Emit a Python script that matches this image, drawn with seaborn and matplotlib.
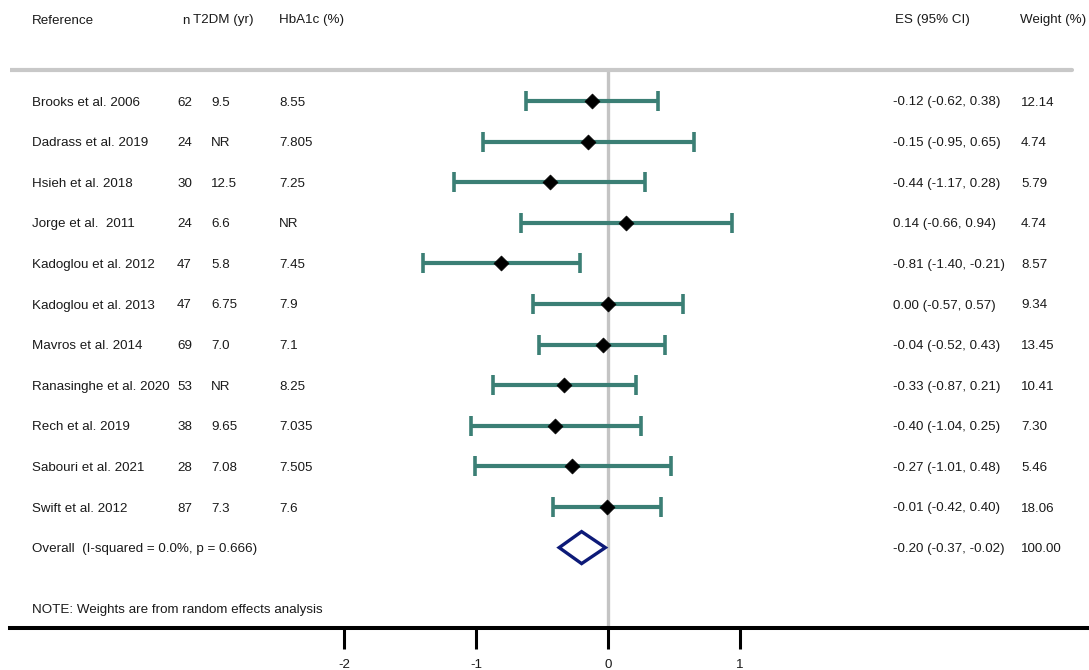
import numpy as np
import pandas as pd
import matplotlib
matplotlib.use("Agg")
import matplotlib.pyplot as plt
import matplotlib.transforms as mtransforms
import seaborn as sns

# Study-level data
studies = ["Brooks et al. 2006", "Dadrass et al. 2019", "Hsieh et al. 2018",
           "Jorge et al.  2011", "Kadoglou et al. 2012", "Kadoglou et al. 2013",
           "Mavros et al. 2014", "Ranasinghe et al. 2020", "Rech et al. 2019",
           "Sabouri et al. 2021", "Swift et al. 2012"]
n_subj = ["62", "24", "30", "24", "47", "47", "69", "53", "38", "28", "87"]
t2dm_years = ["9.5", "NR", "12.5", "6.6", "5.8", "6.75", "7.0", "NR", "9.65", "7.08", "7.3"]
hba1c = ["8.55", "7.805", "7.25", "NR", "7.45", "7.9", "7.1", "8.25", "7.035", "7.505", "7.6"]
es = [-0.12, -0.15, -0.44, 0.14, -0.81, 0.00, -0.04, -0.33, -0.40, -0.27, -0.01]
ci_low = [-0.62, -0.95, -1.17, -0.66, -1.40, -0.57, -0.52, -0.87, -1.04, -1.01, -0.42]
ci_high = [0.38, 0.65, 0.28, 0.94, -0.21, 0.57, 0.43, 0.21, 0.25, 0.48, 0.40]
weights = [12.14, 4.74, 5.79, 4.74, 8.57, 9.34, 13.45, 10.41, 7.30, 5.46, 18.06]

# Pooled estimate
overall_label = "Overall  (I-squared = 0.0%, p = 0.666)"
overall_es = -0.20
overall_low = -0.37
overall_high = -0.02
overall_weight = 100.00

xticks = [-2, -1, 0, 1]
note = "NOTE: Weights are from random effects analysis"

df = pd.DataFrame({"study": studies, "es": es, "lo": ci_low, "hi": ci_high,
                   "row": np.arange(len(studies))})

sns.set_theme(style="white")
plt.rcParams["font.family"] = ["Liberation Sans", "DejaVu Sans"]

W, H = 1089, 670
fig = plt.figure(figsize=(W / 100, H / 100), dpi=100)
ax = fig.add_axes([10 / W, (H - 628) / H, 1 - 10 / W, 628 / H])

row_px = 40.6
px0 = 101
ax.set_xlim((10 - 608) / 132, (1089 - 608) / 132)
ax.set_ylim((628 - px0) / row_px, -px0 / row_px)

def ypix(p):
    return (p - px0) / row_px

txt_dy = 1.5 / row_px  # nudge text centres onto the row lines
text_kw = dict(fontsize=9.6, color="#1a1a1a", va="center", clip_on=False)
tr = mtransforms.blended_transform_factory(fig.transFigure, ax.transData)

def put(xp, y, s):
    ax.text(xp / W, y + txt_dy, s, transform=tr, ha="left", **text_kw)

# Reference lines
ax.axvline(0, ymin=0, ymax=(628 - 70) / 628, color="#c4c4c4", lw=2.4, zorder=1)
ax.axhline(ypix(70), xmin=0, xmax=(1072 - 10) / 1079, color="#c8c8c8", lw=3.0, zorder=1)

# Confidence intervals
teal = "#3b7f75"
ax.errorbar(df["es"], df["row"],
            xerr=[df["es"] - df["lo"], df["hi"] - df["es"]],
            fmt="none", ecolor=teal, elinewidth=3.0, capsize=7.5, capthick=2.6, zorder=2)

# Point estimates
sns.scatterplot(data=df, x="es", y="row", marker="D", s=58, color="black",
                edgecolor="black", linewidth=0.5, zorder=3, ax=ax, legend=False)

# Pooled diamond
oy = len(studies)
dh = 16 / row_px
ax.fill([overall_low, overall_es, overall_high, overall_es],
        [oy, oy - dh, oy, oy + dh], facecolor="white", edgecolor="#0d1a78",
        lw=2.4, zorder=3, joinstyle="miter")

# Column headers
hy = ypix(19)
for xp, txt in [(32, "Reference"), (182, "n"), (193, "T2DM (yr)"),
                (279, "HbA1c (%)"), (895, "ES (95% CI)"), (1020, "Weight (%)")]:
    put(xp, hy, txt)

# Study rows
for i in range(len(studies)):
    put(32, i, studies[i])
    put(177, i, n_subj[i])
    put(211, i, t2dm_years[i])
    put(279, i, hba1c[i])
    put(893, i, f"{es[i]:.2f} ({ci_low[i]:.2f}, {ci_high[i]:.2f})")
    put(1021, i, f"{weights[i]:.2f}")

put(32, oy, overall_label)
put(893, oy, f"{overall_es:.2f} ({overall_low:.2f}, {overall_high:.2f})")
put(1021, oy, f"{overall_weight:.2f}")
put(32, ypix(608), note)

# Axis styling
for side in ["top", "left", "right"]:
    ax.spines[side].set_visible(False)
ax.spines["bottom"].set_color("black")
ax.spines["bottom"].set_linewidth(2.9)
ax.set_xticks(xticks)
ax.set_xticklabels([str(t) for t in xticks])
ax.tick_params(axis="x", direction="out", length=15, width=2.2, color="black",
               pad=7, labelsize=9.6, labelcolor="#1a1a1a", bottom=True)
ax.set_yticks([])
ax.set_xlabel("")
ax.set_ylabel("")

fig.savefig("out.png", dpi=100)
